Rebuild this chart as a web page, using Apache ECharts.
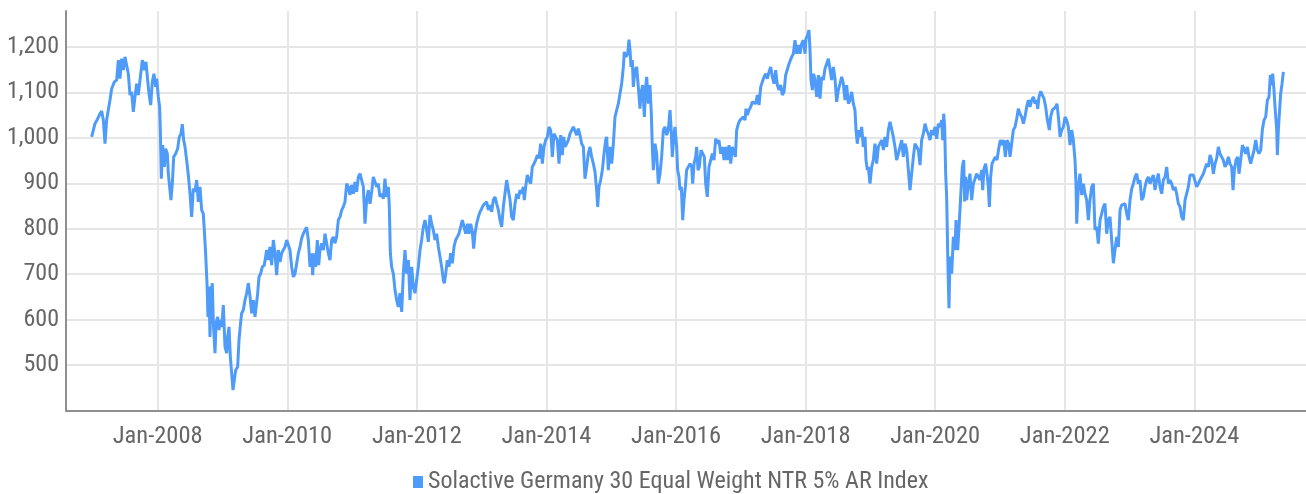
<!DOCTYPE html>
<html><head><meta charset="utf-8">
<script src="https://cdn.jsdelivr.net/npm/echarts@6/dist/echarts.min.js"></script>
<style>html,body{margin:0;padding:0;background:#fff}#c{width:1306px;height:494px}</style>
</head><body><div id="c"></div>
<script>
const seriesName = 'Solactive Germany 30 Equal Weight NTR 5% AR Index';
const xTickYears = [2008, 2010, 2012, 2014, 2016, 2018, 2020, 2022, 2024];
const yTickValues = [500, 600, 700, 800, 900, 1000, 1100, 1200];
// dates as decimal years
const years = [
2006.981,2007.007,2007.032,2007.074,2007.110,2007.135,2007.161,2007.187,2007.212,2007.238,2007.264,2007.290,2007.331,2007.367,2007.393,2007.418,2007.444,2007.470,2007.495,2007.521,2007.547,2007.573,2007.598,2007.624,2007.650,2007.675,2007.701,2007.727,2007.763,2007.794,2007.820,2007.845,2007.866,2007.892,2007.917,2007.943,2007.969,2007.984,
2008.010,2008.030,2008.041,2008.056,2008.077,2008.103,2008.123,2008.149,2008.164,2008.190,2008.205,2008.226,2008.247,2008.277,2008.308,2008.334,2008.360,2008.380,2008.401,2008.422,2008.447,2008.473,2008.499,2008.524,2008.550,2008.576,2008.602,2008.627,2008.653,2008.679,2008.704,2008.720,2008.740,2008.761,2008.776,2008.792,2008.807,2008.823,2008.843,2008.859,2008.885,2008.900,2008.926,2008.946,2008.967,2008.987,
2009.013,2009.039,2009.065,2009.080,2009.101,2009.121,2009.142,2009.162,2009.183,2009.204,2009.234,2009.255,2009.281,2009.296,2009.322,2009.348,2009.373,2009.399,2009.425,2009.451,2009.476,2009.502,2009.528,2009.543,2009.564,2009.589,2009.615,2009.646,2009.682,2009.708,2009.733,2009.759,2009.785,2009.811,2009.836,2009.862,2009.888,2009.913,2009.939,2009.965,2009.991,
2010.016,2010.042,2010.068,2010.094,2010.119,2010.145,2010.171,2010.196,2010.222,2010.248,2010.274,2010.299,2010.325,2010.351,2010.376,2010.392,2010.412,2010.438,2010.464,2010.485,2010.505,2010.531,2010.557,2010.582,2010.608,2010.634,2010.659,2010.685,2010.711,2010.737,2010.762,2010.788,2010.814,2010.840,2010.865,2010.891,2010.917,2010.942,2010.968,2010.994,
2011.020,2011.045,2011.071,2011.097,2011.123,2011.148,2011.174,2011.200,2011.225,2011.251,2011.277,2011.303,2011.328,2011.354,2011.380,2011.405,2011.431,2011.457,2011.483,2011.508,2011.534,2011.560,2011.575,2011.591,2011.611,2011.637,2011.663,2011.688,2011.714,2011.740,2011.766,2011.791,2011.817,2011.843,2011.869,2011.894,2011.920,2011.946,2011.971,2011.997,
2012.023,2012.049,2012.074,2012.100,2012.126,2012.152,2012.177,2012.203,2012.229,2012.254,2012.280,2012.306,2012.332,2012.357,2012.383,2012.409,2012.424,2012.445,2012.470,2012.496,2012.522,2012.548,2012.573,2012.599,2012.625,2012.650,2012.676,2012.702,2012.728,2012.753,2012.779,2012.805,2012.831,2012.856,2012.877,2012.897,2012.923,2012.949,2012.975,
2013.000,2013.026,2013.052,2013.077,2013.103,2013.129,2013.155,2013.180,2013.206,2013.232,2013.258,2013.283,2013.309,2013.335,2013.360,2013.386,2013.412,2013.438,2013.463,2013.489,2013.515,2013.541,2013.566,2013.592,2013.618,2013.643,2013.659,2013.679,2013.705,2013.731,2013.757,2013.782,2013.808,2013.834,2013.860,2013.885,2013.911,2013.937,2013.962,2013.988,
2014.014,2014.040,2014.065,2014.091,2014.117,2014.143,2014.168,2014.194,2014.220,2014.245,2014.266,2014.287,2014.312,2014.338,2014.364,2014.389,2014.415,2014.441,2014.467,2014.492,2014.518,2014.544,2014.570,2014.595,2014.621,2014.647,2014.672,2014.698,2014.724,2014.750,2014.775,2014.791,2014.811,2014.837,2014.863,2014.889,2014.914,2014.930,2014.955,2014.981,
2015.007,2015.032,2015.058,2015.084,2015.110,2015.135,2015.161,2015.187,2015.202,2015.228,2015.254,2015.274,2015.290,2015.305,2015.326,2015.341,2015.367,2015.393,2015.418,2015.444,2015.459,2015.485,2015.511,2015.532,2015.547,2015.573,2015.598,2015.619,2015.634,2015.650,2015.676,2015.701,2015.727,2015.753,2015.778,2015.804,2015.830,2015.856,2015.881,2015.907,2015.923,2015.943,2015.969,2015.984,
2016.010,2016.025,2016.046,2016.061,2016.082,2016.103,2016.123,2016.144,2016.164,2016.190,2016.216,2016.242,2016.257,2016.278,2016.303,2016.319,2016.339,2016.360,2016.386,2016.411,2016.437,2016.458,2016.483,2016.509,2016.535,2016.561,2016.586,2016.612,2016.638,2016.663,2016.689,2016.715,2016.741,2016.766,2016.792,2016.818,2016.844,2016.869,2016.895,2016.916,2016.936,2016.962,2016.988,
2017.013,2017.039,2017.065,2017.080,2017.101,2017.126,2017.152,2017.178,2017.204,2017.229,2017.255,2017.281,2017.307,2017.332,2017.358,2017.384,2017.409,2017.435,2017.461,2017.487,2017.512,2017.538,2017.564,2017.590,2017.615,2017.641,2017.667,2017.692,2017.718,2017.744,2017.759,2017.785,2017.811,2017.836,2017.862,2017.888,2017.914,2017.939,2017.965,2017.991,
2018.006,2018.032,2018.052,2018.068,2018.083,2018.104,2018.124,2018.145,2018.171,2018.197,2018.222,2018.248,2018.274,2018.299,2018.325,2018.351,2018.377,2018.402,2018.428,2018.454,2018.479,2018.505,2018.531,2018.557,2018.582,2018.608,2018.634,2018.660,2018.685,2018.711,2018.737,2018.762,2018.778,2018.798,2018.824,2018.845,2018.865,2018.891,2018.917,2018.932,2018.953,2018.968,2018.994,
2019.020,2019.045,2019.071,2019.097,2019.123,2019.148,2019.174,2019.200,2019.225,2019.251,2019.277,2019.303,2019.328,2019.354,2019.380,2019.405,2019.431,2019.457,2019.483,2019.508,2019.534,2019.560,2019.586,2019.611,2019.637,2019.663,2019.688,2019.714,2019.740,2019.766,2019.791,2019.817,2019.843,2019.869,2019.894,2019.920,2019.946,2019.971,2019.997,
2020.023,2020.049,2020.074,2020.100,2020.116,2020.131,2020.146,2020.162,2020.177,2020.193,2020.203,2020.213,2020.229,2020.255,2020.280,2020.306,2020.321,2020.347,2020.368,2020.393,2020.419,2020.440,2020.455,2020.470,2020.486,2020.512,2020.537,2020.563,2020.589,2020.615,2020.640,2020.666,2020.692,2020.717,2020.733,2020.753,2020.779,2020.805,2020.820,2020.836,2020.856,2020.877,2020.903,2020.928,2020.954,2020.980,
2021.006,2021.031,2021.057,2021.083,2021.108,2021.134,2021.155,2021.180,2021.206,2021.232,2021.258,2021.283,2021.309,2021.335,2021.361,2021.386,2021.412,2021.438,2021.463,2021.489,2021.515,2021.541,2021.566,2021.582,2021.602,2021.628,2021.654,2021.680,2021.705,2021.731,2021.762,2021.782,2021.808,2021.834,2021.860,2021.880,2021.906,2021.927,2021.952,2021.978,
2022.004,2022.029,2022.055,2022.081,2022.107,2022.132,2022.158,2022.173,2022.184,2022.209,2022.235,2022.261,2022.287,2022.312,2022.338,2022.364,2022.389,2022.415,2022.441,2022.467,2022.492,2022.518,2022.544,2022.570,2022.595,2022.621,2022.647,2022.672,2022.698,2022.724,2022.750,2022.775,2022.801,2022.827,2022.853,2022.878,2022.904,2022.930,2022.955,2022.981,
2023.007,2023.033,2023.058,2023.084,2023.110,2023.135,2023.161,2023.187,2023.213,2023.238,2023.264,2023.290,2023.316,2023.341,2023.367,2023.393,2023.418,2023.444,2023.470,2023.496,2023.521,2023.547,2023.573,2023.599,2023.624,2023.650,2023.676,2023.701,2023.727,2023.753,2023.779,2023.804,2023.830,2023.856,2023.881,2023.907,2023.933,2023.959,2023.984,
2024.010,2024.036,2024.062,2024.087,2024.113,2024.139,2024.164,2024.190,2024.216,2024.242,2024.267,2024.293,2024.319,2024.345,2024.370,2024.396,2024.422,2024.447,2024.473,2024.499,2024.525,2024.550,2024.576,2024.597,2024.617,2024.643,2024.669,2024.689,2024.715,2024.741,2024.766,2024.792,2024.818,2024.844,2024.869,2024.895,2024.921,2024.947,2024.972,2024.998,
2025.024,2025.049,2025.075,2025.101,2025.127,2025.152,2025.173,2025.193,2025.209,2025.229,2025.245,2025.271,2025.281,2025.296,2025.312,2025.332,2025.353,2025.374
];
const values = [
1002,1017,1031,1042,1053,1059,1039,987,1039,1061,1083,1108,1123,1127,1171,1130,1174,1149,1178,1179,1141,1094,1101,1057,1090,1119,1094,1127,1171,1149,1167,1127,1097,1072,1123,1141,1112,1130,
1090,1068,1017,910,984,936,976,965,921,921,863,899,958,965,976,1002,1009,1030,995,980,951,918,877,826,888,881,907,859,892,841,833,797,745,680,606,673,562,651,680,592,526,592,606,577,599,584,
632,540,526,562,584,518,482,445,467,489,496,555,595,614,621,643,658,680,651,614,643,606,603,658,694,701,716,720,753,731,760,720,775,746,698,753,727,746,753,760,775,
771,753,716,694,701,698,746,760,779,789,797,803,775,716,746,698,746,716,775,720,753,768,753,789,768,746,731,775,782,768,782,819,826,841,848,859,899,892,874,896,
877,903,881,914,921,907,892,811,863,885,855,881,914,910,892,899,870,877,866,910,870,892,848,746,716,701,665,643,628,658,617,701,753,701,731,643,716,672,658,687,
716,753,775,804,819,797,771,830,811,797,775,789,760,760,716,687,680,701,731,716,746,724,760,775,782,789,789,819,804,789,811,789,811,793,756,789,811,826,837,
844,852,848,859,841,852,837,863,870,855,841,819,804,848,877,907,885,863,826,819,855,877,866,885,877,892,863,892,918,907,899,936,943,951,962,955,987,943,980,995,
1002,1024,1017,958,1009,1013,995,943,1006,962,1002,980,987,995,1009,1013,1024,1024,1006,1020,1006,987,980,910,936,965,980,958,943,925,885,848,892,907,929,965,995,1002,929,980,
943,985,1046,1061,1075,1097,1119,1156,1189,1178,1185,1216,1193,1156,1171,1112,1149,1156,1112,1064,1097,1116,1046,1112,1134,1075,1116,1053,980,929,987,965,899,921,958,1017,1024,1006,1017,1061,1024,958,1009,1024,
980,929,914,885,892,819,863,892,929,936,943,936,899,943,958,980,929,936,973,976,958,899,870,936,951,965,951,998,987,995,965,980,951,980,951,984,943,980,980,958,1017,1031,1039,
1042,1046,1039,1064,1050,1061,1068,1079,1083,1075,1094,1072,1112,1123,1134,1141,1130,1145,1156,1134,1119,1149,1116,1105,1116,1094,1101,1138,1141,1163,1167,1178,1185,1215,1185,1204,1185,1207,1215,1185,
1218,1226,1237,1193,1127,1105,1141,1127,1090,1138,1086,1134,1127,1152,1163,1174,1171,1127,1156,1130,1079,1105,1119,1134,1119,1083,1116,1075,1083,1101,1075,1061,1017,987,1017,1002,1024,980,1002,951,929,936,899,
936,951,987,943,980,980,995,973,1002,980,1017,1035,1031,1002,980,951,965,969,995,958,987,973,929,885,921,958,987,984,973,940,995,1009,1031,1017,1009,995,1017,1006,1024,
998,1031,1024,1039,995,1053,1024,921,870,746,680,625,739,701,782,753,819,753,804,870,936,951,860,914,863,899,921,863,899,910,921,925,907,929,885,932,943,914,892,848,914,943,947,958,951,976,
995,984,995,958,995,987,958,987,1017,1024,1042,1064,1053,1046,1031,1046,1068,1083,1068,1083,1090,1075,1083,1064,1090,1102,1094,1086,1068,1039,1017,1046,1061,1064,1068,1075,1039,1002,1017,1024,
1046,1039,1024,984,1017,995,951,899,811,892,921,874,899,877,863,819,863,892,899,797,804,767,819,833,848,855,789,819,826,775,724,753,782,760,841,852,855,855,833,819,
863,888,899,914,921,899,907,863,870,892,907,914,899,910,918,885,907,921,892,877,907,914,936,899,907,899,885,892,877,855,848,826,819,863,877,892,918,921,918,
914,892,899,907,907,921,932,943,936,962,951,921,943,955,980,965,965,951,936,943,958,943,936,885,929,951,958,921,951,984,976,965,980,958,943,943,973,995,973,965,
973,1017,1039,1046,1083,1090,1138,1116,1141,1105,1068,1017,962,1017,1053,1097,1119,1145
];

const FONT = '"Roboto Condensed","Liberation Sans Narrow","DejaVu Sans Condensed",sans-serif';
const LINE_COLOR = '#4e9bfa';
const chart = echarts.init(document.getElementById('c'), null, {renderer: 'canvas'});
chart.setOption({
  animation: false,
  backgroundColor: '#ffffff',
  grid: {left: 66, right: 0, top: 11, bottom: 83.5, containLabel: false},
  legend: {
    data: [seriesName], left: 408, top: 465, icon: 'rect', itemWidth: 10, itemHeight: 12,
    textStyle: {fontFamily: FONT, fontSize: 24, color: '#666666'}
  },
  xAxis: {
    type: 'value', min: 2006.585, max: 2025.723,
    axisLine: {show: true, onZero: false, lineStyle: {color: '#8f8f8f', width: 2}},
    axisTick: {show: false, customValues: xTickYears},
    axisLabel: {customValues: xTickYears, formatter: v => 'Jan-' + Math.round(v), margin: 14,
      fontFamily: FONT, fontSize: 24.5, color: '#666666'},
    splitLine: {show: true, lineStyle: {color: '#e6e6e6', width: 2}}
  },
  yAxis: {
    type: 'value', min: 400, max: 1279, interval: 100,
    axisLine: {show: true, onZero: false, lineStyle: {color: '#8f8f8f', width: 2}},
    axisTick: {show: false},
    axisLabel: {showMinLabel: false, showMaxLabel: false, margin: 7,
      formatter: v => yTickValues.indexOf(v) >= 0 ? v.toLocaleString('en-US') : '',
      fontFamily: FONT, fontSize: 24, color: '#666666'},
    splitLine: {show: true, showMinLine: false, showMaxLine: false, lineStyle: {color: '#e6e6e6', width: 2}}
  },
  series: [{
    name: seriesName, type: 'line', data: years.map((y, i) => [y, values[i]]),
    showSymbol: false, symbol: 'none', lineStyle: {color: LINE_COLOR, width: 3}, itemStyle: {color: LINE_COLOR}
  }]
});
</script></body></html>
